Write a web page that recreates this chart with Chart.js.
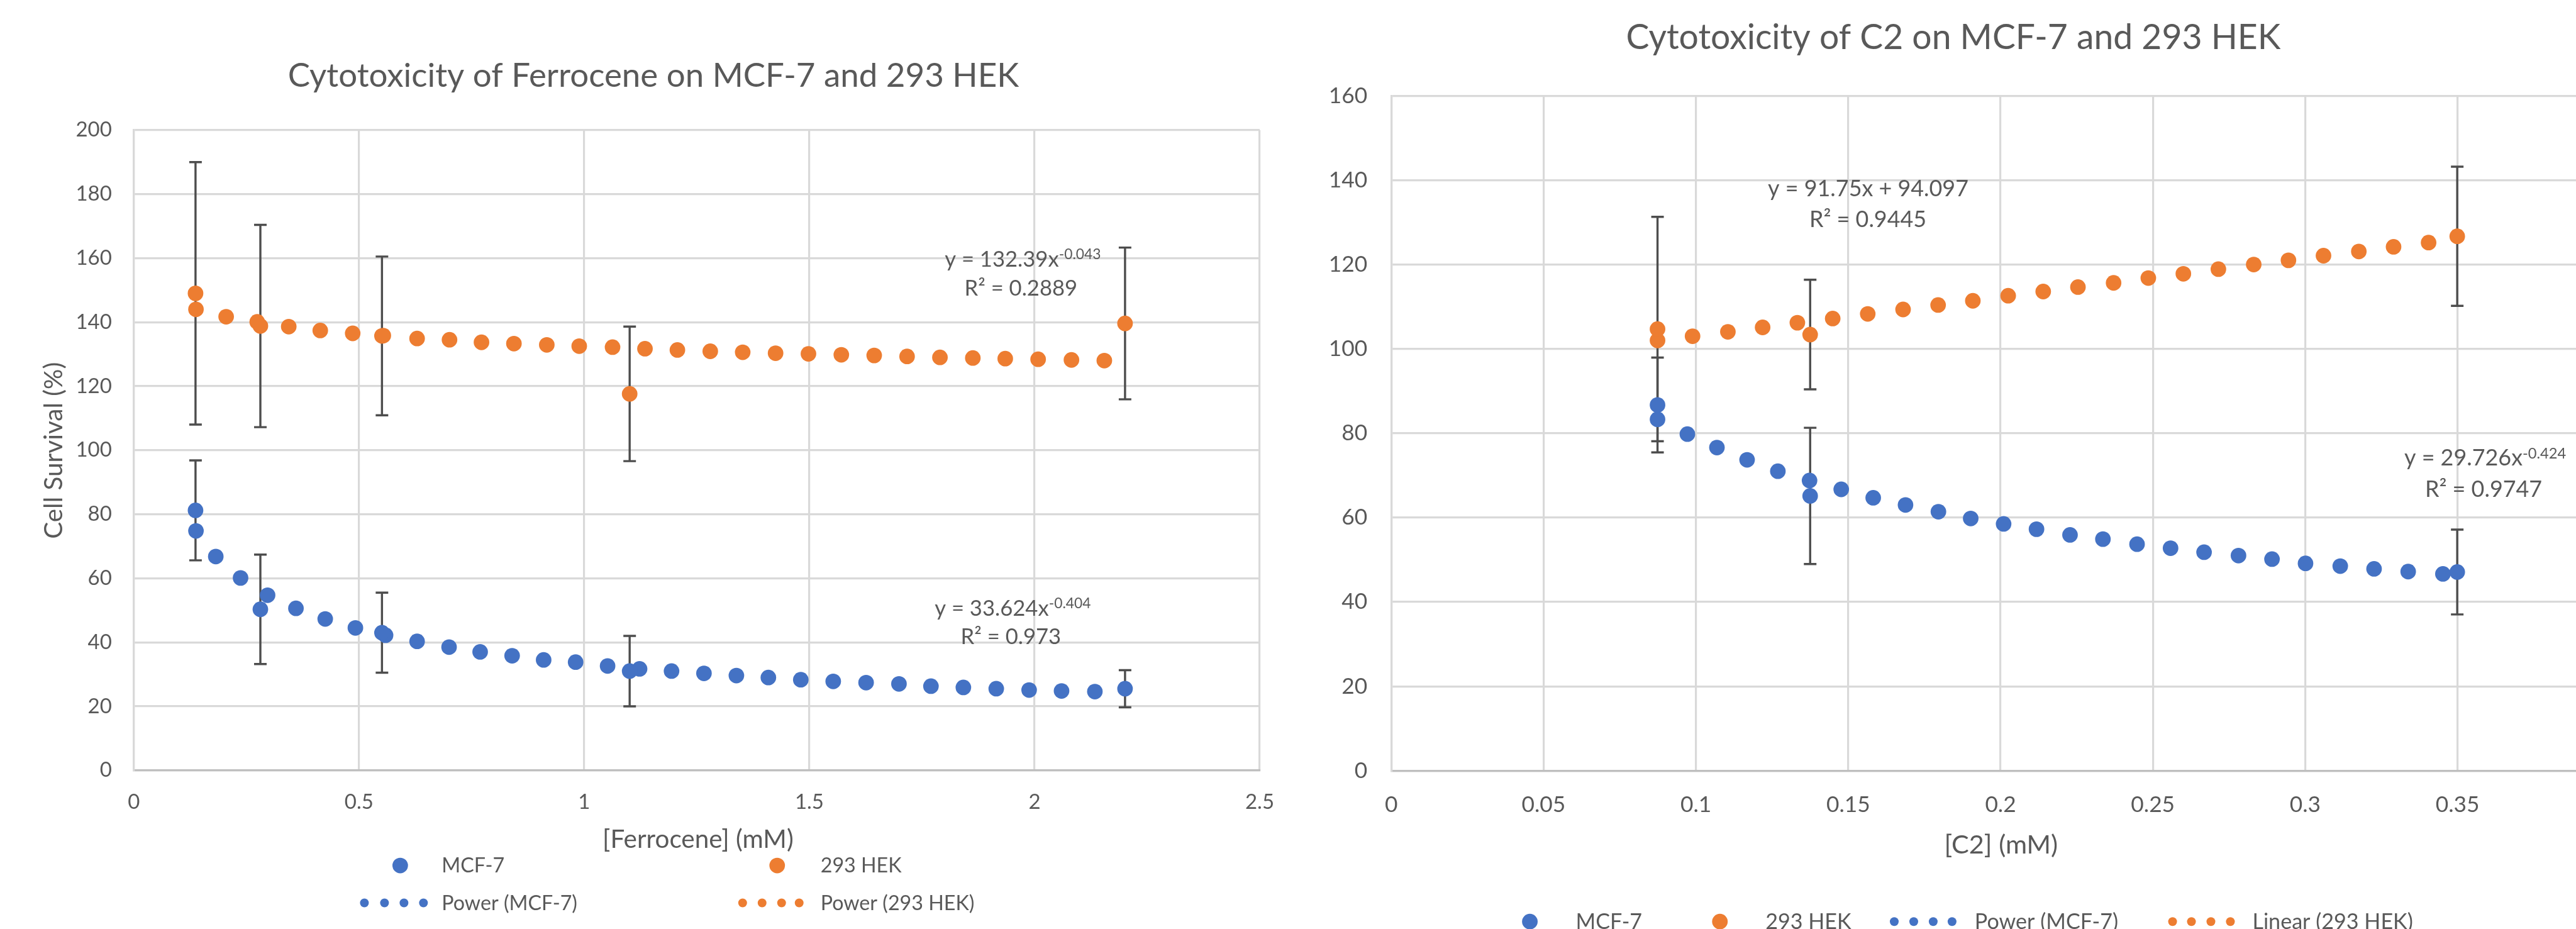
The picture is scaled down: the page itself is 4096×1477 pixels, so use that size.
<!DOCTYPE html>
<html>
<head>
<meta charset="utf-8">
<script src="https://cdn.jsdelivr.net/npm/chart.js@4.4.1/dist/chart.umd.min.js"></script>
<style>
html,body{margin:0;padding:0;background:#fff;overflow:hidden;width:4096px;height:1477px;}
canvas{position:absolute;top:0;}
</style>
</head>
<body>
<canvas id="c1"></canvas>
<canvas id="c2"></canvas>
<script>
// ---------- DATA ----------
// Chart 1: Ferrocene
const ferroX        = [0.137, 0.281, 0.551, 1.101, 2.201];
const ferroMCF7     = [81.2, 50.3, 43.0, 31.0, 25.5];
const ferroMCF7Err  = [15.6, 17.1, 12.5, 11.0, 5.8];
const ferroHEK      = [149.0, 138.8, 135.7, 117.6, 139.6];
const ferroHEKErr   = [41.0, 31.6, 24.8, 21.0, 23.7];
// trendline dots (round-dot dash marks) as seen in the picture
const ferroTrendMCF7X = [0.138,0.182,0.237,0.297,0.360,0.425,0.492,0.559,0.629,0.700,0.769,0.840,0.910,0.981,1.052,1.123,1.194,1.266,1.338,1.409,1.481,1.553,1.626,1.699,1.770,1.842,1.915,1.988,2.060,2.134];
const ferroTrendMCF7Y = [74.8,66.8,60.1,54.7,50.6,47.3,44.5,42.2,40.3,38.5,37.0,35.8,34.5,33.8,32.6,31.7,31.0,30.3,29.6,29.0,28.3,27.8,27.4,27.0,26.3,25.9,25.5,25.1,24.8,24.6];
const ferroTrendHEKX  = [0.138,0.205,0.274,0.344,0.414,0.486,0.554,0.629,0.701,0.772,0.844,0.917,0.989,1.063,1.135,1.207,1.280,1.352,1.425,1.498,1.571,1.644,1.717,1.790,1.863,1.935,2.008,2.082,2.155];
const ferroTrendHEKY  = [144.0,141.7,140.1,138.6,137.4,136.5,135.8,134.9,134.5,133.7,133.3,132.9,132.5,132.2,131.7,131.3,130.9,130.6,130.3,130.1,129.8,129.6,129.3,129.0,128.8,128.6,128.4,128.2,128.0];
const ferroXTicks = ['0','0.5','1','1.5','2','2.5'];
const ferroYTicks = ['0','20','40','60','80','100','120','140','160','180','200'];

// Chart 2: C2
const c2X        = [0.0874, 0.1375, 0.3499];
const c2MCF7     = [86.7, 65.15, 47.1];
const c2MCF7Err  = [11.25, 16.15, 10.05];
const c2HEK      = [104.7, 103.4, 126.7];
const c2HEKErr   = [26.6, 13.0, 16.5];
const c2TrendMCF7X = [0.0874,0.0972,0.1069,0.1168,0.1269,0.1373,0.1477,0.1582,0.1688,0.1796,0.1902,0.2010,0.2118,0.2228,0.2336,0.2448,0.2558,0.2668,0.2781,0.2891,0.3001,0.3115,0.3226,0.3338,0.3452];
const c2TrendMCF7Y = [83.3,79.8,76.6,73.7,71.0,68.8,66.7,64.7,63.0,61.4,59.8,58.5,57.25,55.9,54.9,53.7,52.75,51.8,51.0,50.15,49.15,48.5,47.85,47.2,46.65];
const c2TrendHEKX  = [0.0874,0.0989,0.1105,0.1219,0.1333,0.1449,0.1564,0.1680,0.1795,0.1909,0.2025,0.2140,0.2254,0.2371,0.2485,0.2600,0.2715,0.2831,0.2945,0.3060,0.3176,0.3290,0.3405];
const c2TrendHEKY  = [102.0,103.0,104.05,105.1,106.2,107.2,108.3,109.35,110.4,111.4,112.6,113.6,114.65,115.65,116.8,117.8,118.9,120.0,121.0,122.1,123.1,124.2,125.2];
const c2XTicks = ['0','0.05','0.1','0.15','0.2','0.25','0.3','0.35','0.4'];
const c2YTicks = ['0','20','40','60','80','100','120','140','160'];

// ---------- STYLE / LAYOUT ----------
const S = 0.999, H = 1477;
const FONT = 'Lato, "Open Sans", "DejaVu Sans", sans-serif';
const TXT = '#595959';
const BLUE = '#4472C4', ORANGE = '#ED7D31';
const GRID = '#d9d9d9';
const mc = document.createElement('canvas').getContext('2d');
function fit(text, w){ mc.font = '100px ' + FONT; return 100 * w / mc.measureText(text).width; }
function pts(xs, ys){ return xs.map((x, i) => ({x: x, y: ys[i]})); }

function markerDs(label, xs, ys, errs, color, r){
  return {label: label, data: pts(xs, ys), errors: errs, backgroundColor: color, borderColor: color,
          pointRadius: r, pointHoverRadius: r, pointBorderWidth: 0, showLine: false};
}

function annotPlugin(c, offX){
  const X = rx => rx * S - offX, Y = ry => ry * S;
  return {
    id: 'annot' + offX,
    beforeDatasetsDraw(chart){
      const ctx = chart.ctx, xs = chart.scales.x, ys = chart.scales.y;
      ctx.save();
      ctx.strokeStyle = '#4d4d4d';
      ctx.lineWidth = 3.4 * S;
      const cap = 10 * S;
      chart.data.datasets.forEach(ds => {
        if (!ds.errors) return;
        ds.data.forEach((p, i) => {
          const e = ds.errors[i];
          const x = xs.getPixelForValue(p.x);
          const y1 = ys.getPixelForValue(p.y + e), y2 = ys.getPixelForValue(p.y - e);
          ctx.beginPath();
          ctx.moveTo(x, y1); ctx.lineTo(x, y2);
          ctx.moveTo(x - cap, y1); ctx.lineTo(x + cap, y1);
          ctx.moveTo(x - cap, y2); ctx.lineTo(x + cap, y2);
          ctx.stroke();
        });
      });
      ctx.restore();
    },
    afterDraw(chart){
      const ctx = chart.ctx;
      ctx.save();
      ctx.fillStyle = TXT;
      // title
      const ts = fit(c.title, c.titleW * S);
      ctx.font = ts + 'px ' + FONT;
      ctx.textAlign = 'center'; ctx.textBaseline = 'alphabetic';
      ctx.fillText(c.title, X(c.titleX), Y(c.titleY));
      // axis titles
      const as = fit(c.xTitleFit, c.xTitleW * S);
      ctx.font = as + 'px ' + FONT;
      ctx.fillText(c.xTitle, X(c.xTitleX), Y(c.xTitleY));
      ctx.save();
      ctx.translate(X(c.yTitleX), Y(c.yTitleY));
      ctx.rotate(-Math.PI / 2);
      ctx.textBaseline = 'middle';
      ctx.fillText(c.yTitle, 0, 0);
      ctx.restore();
      // legend
      const ls = fit('MCF-7', c.legendFitW * S);
      ctx.font = ls + 'px ' + FONT;
      ctx.textAlign = 'left'; ctx.textBaseline = 'middle';
      c.legend.forEach(it => {
        ctx.fillStyle = it.color;
        it.xs.forEach(x => {
          ctx.beginPath();
          ctx.arc(X(x), Y(it.y), (it.r) * S, 0, Math.PI * 2);
          ctx.fill();
        });
        ctx.fillStyle = TXT;
        ctx.fillText(it.text, X(it.tx), Y(it.y + 1));
      });
      // trendline equations
      const es = fit(c.eqFit, c.eqFitW * S);
      const sup = es * 0.66;
      ctx.textBaseline = 'alphabetic'; ctx.textAlign = 'left';
      c.eqs.forEach(line => {
        ctx.font = es + 'px ' + FONT;
        const w1 = ctx.measureText(line.main).width;
        let w2 = 0;
        if (line.sup) { ctx.font = sup + 'px ' + FONT; w2 = ctx.measureText(line.sup).width; }
        const x0 = X(line.cx) - (w1 + w2) / 2;
        ctx.font = es + 'px ' + FONT;
        ctx.fillText(line.main, x0, Y(line.by));
        if (line.sup) {
          ctx.font = sup + 'px ' + FONT;
          ctx.fillText(line.sup, x0 + w1, Y(line.by) - es * 0.33);
        }
      });
      ctx.restore();
    }
  };
}

function buildChart(id, offX, W, c){
  const cv = document.getElementById(id);
  cv.width = W; cv.height = H;
  cv.style.left = offX + 'px';
  const L = c.area.left * S - offX, R = c.area.right * S - offX, T = c.area.top * S, B = c.area.bottom * S;
  const tickSize = fit(c.tickFit, c.tickFitW * S);
  const tickFont = {family: FONT, size: tickSize, lineHeight: 1};
  const xPad = c.xTickCY * S - B - tickSize / 2;
  return new Chart(cv, {
    type: 'scatter',
    data: {datasets: c.datasets},
    options: {
      responsive: false, maintainAspectRatio: false, animation: false, devicePixelRatio: 1,
      events: [],
      layout: {padding: {left: 0, right: W - R, top: T, bottom: 0}},
      plugins: {legend: {display: false}, title: {display: false}, tooltip: {enabled: false}},
      scales: {
        x: {type: 'linear', position: 'bottom', min: c.xMin, max: c.xMax,
            ticks: {stepSize: c.xStep, autoSkip: false, maxRotation: 0, minRotation: 0, color: TXT,
                    font: tickFont, padding: xPad, callback: (v, i) => c.xTicks[i]},
            grid: {color: GRID, lineWidth: 3.2 * S, drawTicks: false},
            border: {display: true, color: '#bfbfbf', width: 3.2 * S},
            afterFit: s => { s.height = H - B; }},
        y: {type: 'linear', position: 'left', min: c.yMin, max: c.yMax,
            ticks: {stepSize: c.yStep, autoSkip: false, color: TXT, font: tickFont,
                    padding: c.yTickPad * S, callback: (v, i) => c.yTicks[i]},
            grid: {color: GRID, lineWidth: 3.2 * S, drawTicks: false},
            border: {display: true, color: GRID, width: 3.2 * S},
            afterFit: s => { s.width = L; }}
      }
    },
    plugins: [annotPlugin(c, offX)]
  });
}

const RM = 12.4 * S;

buildChart('c1', 0, 2098, {
  area: {left: 213, right: 2005, top: 207, bottom: 1226},
  xMin: 0, xMax: 2.5, xStep: 0.5, yMin: 0, yMax: 200, yStep: 20,
  xTicks: ferroXTicks, yTicks: ferroYTicks,
  tickFit: '200', tickFitW: 57.5, xTickCY: 1276.7, yTickPad: 35,
  datasets: [
    markerDs('MCF-7', ferroX, ferroMCF7, ferroMCF7Err, BLUE, RM),
    markerDs('293 HEK', ferroX, ferroHEK, ferroHEKErr, ORANGE, RM),
    markerDs('Power (MCF-7)', ferroTrendMCF7X, ferroTrendMCF7Y, null, BLUE, RM),
    markerDs('Power (293 HEK)', ferroTrendHEKX, ferroTrendHEKY, null, ORANGE, RM)
  ],
  title: 'Cytotoxicity of Ferrocene on MCF-7 and 293 HEK', titleW: 1164, titleX: 1040, titleY: 138,
  xTitle: '[Ferrocene] (mM)', xTitleFit: '[Ferrocene] (mM)', xTitleW: 304, xTitleX: 1111, xTitleY: 1349,
  yTitle: 'Cell Survival (%)', yTitleX: 86, yTitleY: 717,
  legendFitW: 100,
  legend: [
    {color: BLUE, xs: [637], r: 12.4, y: 1377.4, text: 'MCF-7', tx: 703},
    {color: ORANGE, xs: [1237], r: 12.4, y: 1377.4, text: '293 HEK', tx: 1306},
    {color: BLUE, xs: [580, 612, 643, 674], r: 7, y: 1437, text: 'Power (MCF-7)', tx: 703},
    {color: ORANGE, xs: [1182, 1213, 1244, 1272], r: 7, y: 1437, text: 'Power (293 HEK)', tx: 1306}
  ],
  eqFit: 'y = 132.39x', eqFitW: 181.7,
  eqs: [
    {main: 'y = 132.39x', sup: '-0.043', cx: 1628, by: 424},
    {main: 'R\u00B2 = 0.2889', cx: 1625, by: 470},
    {main: 'y = 33.624x', sup: '-0.404', cx: 1612, by: 979.5},
    {main: 'R\u00B2 = 0.973', cx: 1609, by: 1025}
  ]
});

buildChart('c2', 2098, 2202, {
  area: {left: 2214.4, right: 4154, top: 152.5, bottom: 1226.5},
  xMin: 0, xMax: 0.4, xStep: 0.05, yMin: 0, yMax: 160, yStep: 20,
  xTicks: c2XTicks, yTicks: c2YTicks,
  tickFit: '160', tickFitW: 61.5, xTickCY: 1280.6, yTickPad: 38,
  datasets: [
    markerDs('MCF-7', c2X, c2MCF7, c2MCF7Err, BLUE, RM),
    markerDs('293 HEK', c2X, c2HEK, c2HEKErr, ORANGE, RM),
    markerDs('Power (MCF-7)', c2TrendMCF7X, c2TrendMCF7Y, null, BLUE, RM),
    markerDs('Linear (293 HEK)', c2TrendHEKX, c2TrendHEKY, null, ORANGE, RM)
  ],
  title: 'Cytotoxicity of C2 on MCF-7 and 293 HEK', titleW: 1042, titleX: 3109, titleY: 77.6,
  xTitle: '[C2] (mM)', xTitleFit: '[C2] (mM)', xTitleW: 181, xTitleX: 3185, xTitleY: 1358,
  yTitle: 'Cell Survival', yTitleX: 2072, yTitleY: 689,
  legendFitW: 105.8,
  legend: [
    {color: BLUE, xs: [2435], r: 12.4, y: 1466.7, text: 'MCF-7', tx: 2508},
    {color: ORANGE, xs: [2737.5], r: 12.4, y: 1466.7, text: '293 HEK', tx: 2810},
    {color: BLUE, xs: [3015, 3046, 3077, 3107], r: 7, y: 1466.7, text: 'Power (MCF-7)', tx: 3143},
    {color: ORANGE, xs: [3458, 3488, 3519, 3550], r: 7, y: 1466.7, text: 'Linear (293 HEK)', tx: 3585}
  ],
  eqFit: 'y = 91.75x + 94.097', eqFitW: 319.4,
  eqs: [
    {main: 'y = 91.75x + 94.097', cx: 2973.5, by: 312.7},
    {main: 'R\u00B2 = 0.9445', cx: 2973, by: 361.7},
    {main: 'y = 29.726x', sup: '-0.424', cx: 3955.6, by: 741.2},
    {main: 'R\u00B2 = 0.9747', cx: 3953, by: 790.3}
  ]
});
</script>
</body>
</html>
